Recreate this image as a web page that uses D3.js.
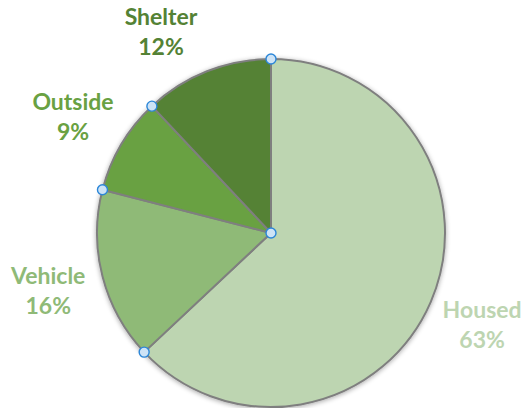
<!DOCTYPE html>
<html>
<head>
<meta charset="utf-8">
<script src="https://cdn.jsdelivr.net/npm/d3@7"></script>
<style>
  html, body { margin: 0; padding: 0; background: #fff; }
  svg { display: block; }
</style>
</head>
<body>
<div class="chart"></div>
<script>
// data
var categories = ['Housed', 'Vehicle', 'Outside', 'Shelter'];
var values = [63, 16, 9, 12];
var colors = ['#bdd5b1', '#8fba77', '#69a142', '#548235'];

var settings = {
  w: 528,
  h: 408,
  cx: 271,
  cy: 233,
  radius: 174,
  labelRadius: 230,
  lineGap: 30
};

var svg = d3.select('.chart')
  .append('svg')
  .attr('width', settings.w)
  .attr('height', settings.h);

// soft shadow like the office chart
var defs = svg.append('defs');
var shadow = defs.append('filter')
  .attr('id', 'shadow')
  .attr('x', '-10%').attr('y', '-10%')
  .attr('width', '120%').attr('height', '120%');
shadow.append('feGaussianBlur')
  .attr('in', 'SourceAlpha')
  .attr('stdDeviation', 2.5);
shadow.append('feOffset').attr('dx', 0).attr('dy', 1).attr('result', 'blur');
shadow.append('feComponentTransfer')
  .append('feFuncA').attr('type', 'linear').attr('slope', 0.35);
var merge = shadow.append('feMerge');
merge.append('feMergeNode');
merge.append('feMergeNode').attr('in', 'SourceGraphic');

var data = categories.map(function(c, i) {
  return { name: c, value: values[i], color: colors[i] };
});

var pie = d3.pie()
  .sort(null)
  .value(function(d) { return d.value; });

var arcs = pie(data);

var arc = d3.arc()
  .innerRadius(0)
  .outerRadius(settings.radius);

var g = svg.append('g')
  .attr('transform', 'translate(' + settings.cx + ',' + settings.cy + ')');

g.append('g')
  .attr('filter', 'url(#shadow)')
  .selectAll('path')
  .data(arcs)
  .enter()
  .append('path')
  .attr('d', arc)
  .attr('fill', function(d) { return d.data.color; })
  .attr('stroke', '#7f7f7f')
  .attr('stroke-width', 2)
  .attr('stroke-linejoin', 'round');

// labels: placed on a circle round the pie, kept inside the picture
var labels = g.selectAll('.lbl')
  .data(arcs)
  .enter()
  .append('text')
  .attr('class', 'lbl')
  .attr('text-anchor', 'middle')
  .attr('font-family', 'Lato, "Open Sans", sans-serif')
  .attr('font-weight', 'bold')
  .attr('font-size', '23px')
  .attr('fill', function(d) { return d.data.color; })
  .each(function(d) {
    var a = (d.startAngle + d.endAngle) / 2;
    var r = settings.labelRadius;
    var x = r * Math.sin(a);
    var y = -r * Math.cos(a);
    var minY = 31 - settings.cy;
    if (y < minY) {
      y = minY;
      x = (Math.sin(a) < 0 ? -1 : 1) * Math.sqrt(r * r - y * y);
    }
    var t = d3.select(this);
    t.append('tspan')
      .attr('x', x)
      .attr('y', y - settings.lineGap / 2 + 9)
      .text(d.data.name);
    t.append('tspan')
      .attr('x', x)
      .attr('y', y + settings.lineGap / 2 + 9)
      .text(d.data.value + '%');
  });

// selection handles at the slice corners
var handles = [{ x: 0, y: 0 }];
arcs.forEach(function(d) {
  handles.push({
    x: settings.radius * Math.sin(d.startAngle),
    y: -settings.radius * Math.cos(d.startAngle)
  });
});

g.selectAll('.handle')
  .data(handles)
  .enter()
  .append('circle')
  .attr('class', 'handle')
  .attr('cx', function(d) { return d.x; })
  .attr('cy', function(d) { return d.y; })
  .attr('r', 5)
  .attr('fill', '#cde3f6')
  .attr('stroke', '#2b86d8')
  .attr('stroke-width', 1.4);
</script>
</body>
</html>
